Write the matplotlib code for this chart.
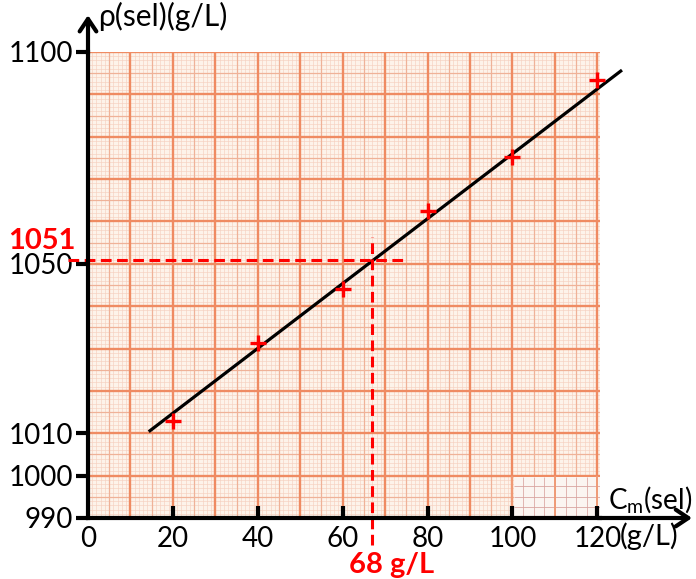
import matplotlib
matplotlib.use("Agg")
import matplotlib.pyplot as plt
import numpy as np
from matplotlib.patches import Rectangle

plt.rcParams['font.family'] = ['Lato', 'DejaVu Sans']
plt.rcParams['mathtext.fontset'] = 'custom'
plt.rcParams['mathtext.rm'] = 'Lato'
plt.rcParams['mathtext.it'] = 'Lato:italic'
plt.rcParams['mathtext.bf'] = 'Lato:bold'

# ---- data ----
conc = [20, 40, 60, 80, 100, 120]              # C_m(sel) g/L
density = [1013, 1031.4, 1044, 1062.5, 1075.3, 1093.3]  # rho g/L
fit_x = [14.6, 125.5]
fit_y = [1010.6, 1095.5]
read_x = 67
read_y = 1051
xticks = [0, 20, 40, 60, 80, 100, 120]
yticks = [990, 1000, 1010, 1050, 1100]

W, H = 696, 579
fig = plt.figure(figsize=(W / 100, H / 100), dpi=100)
ax = fig.add_axes([88 / W, (579 - 518) / H, 511.5 / W, 466 / H])
ax.set_xlim(0, 120.5)
ax.set_ylim(990, 1100)

# graph paper
ax.add_patch(Rectangle((0, 990), 120.5, 110, facecolor='#fdf3ea', edgecolor='none', zorder=0))
ax.vlines(np.arange(0, 121, 1), 990, 1100, color='#f6d0c0', lw=0.45, zorder=0.2)
ax.hlines(np.arange(990, 1101, 1), 0, 120.5, color='#f6d0c0', lw=0.45, zorder=0.2)
ax.vlines(np.arange(5, 121, 10), 990, 1100, color='#efb298', lw=0.9, zorder=0.3)
ax.hlines(np.arange(995, 1101, 10), 0, 120.5, color='#efb298', lw=0.9, zorder=0.3)
ax.vlines(np.arange(0, 121, 10), 990, 1100, color='#ef8b62', lw=1.7, zorder=0.4)
ax.hlines(np.arange(990, 1101, 10), 0, 120.5, color='#ef8b62', lw=1.7, zorder=0.4)
# lighter pasted patch at bottom right
ax.add_patch(Rectangle((100.3, 990), 20.2, 9.7, facecolor='#fbf5f1', edgecolor='none', zorder=0.5))
ax.vlines(np.arange(102.5, 120, 2.5), 990, 999.7, color='#dcaaa6', lw=0.6, zorder=0.6)
ax.hlines(np.arange(992.5, 999.7, 2.5), 100.3, 120.5, color='#d9a4a0', lw=0.6, zorder=0.6)
ax.vlines([100, 110, 120], 990, 1000, color='#ef9a75', lw=1.4, zorder=0.7)

# spines / ticks
for s in ['top', 'right']:
    ax.spines[s].set_visible(False)
for s in ['left', 'bottom']:
    ax.spines[s].set_linewidth(3)
    ax.spines[s].set_color('black')
    ax.spines[s].set_zorder(5)

ax.set_xticks(xticks)
ax.set_xticklabels([str(v) for v in xticks])
ax.set_yticks(yticks)
ax.set_yticklabels([str(v) for v in yticks])
ax.tick_params(axis='x', direction='in', length=9, width=3, pad=6, labelsize=20)
ax.tick_params(axis='y', direction='out', length=9, width=3, pad=2, labelsize=20)
ax.xaxis.get_major_ticks()[0].tick1line.set_visible(False)

# axis arrows
ax.annotate('', xy=(0, 1108.7), xytext=(0, 1099.5),
            arrowprops=dict(arrowstyle='->,head_length=0.45,head_width=0.3', lw=3, color='black',
                            mutation_scale=20, shrinkA=0, shrinkB=0),
            annotation_clip=False, zorder=6)
ax.annotate('', xy=(142.3, 990), xytext=(120, 990),
            arrowprops=dict(arrowstyle='->,head_length=0.45,head_width=0.3', lw=3, color='black',
                            mutation_scale=20, shrinkA=0, shrinkB=0),
            annotation_clip=False, zorder=6)

# fit line and points
ax.plot(fit_x, fit_y, color='black', lw=2.3, clip_on=False, zorder=3)
ax.plot(conc, density, linestyle='none', marker='+', color='#ff0000', markersize=12,
        mew=2.4, clip_on=False, zorder=4)

# reading lines
ax.plot([-4.7, 74.3], [read_y, read_y], color='#ff0000', lw=2.2, dashes=(3.5, 1.8),
        clip_on=False, zorder=3.5)
ax.plot([read_x, read_x], [983.6, 1056.4], color='#ff0000', lw=2.2, dashes=(3.5, 1.8),
        clip_on=False, zorder=3.5)

# labels
ax.text(2.4, 1108.3, 'ρ(sel)(g/L)', fontsize=21.5, ha='left', va='center', clip_on=False)
ax.text(122.6, 994.3, r'$\mathrm{C_m}$(sel)', fontsize=20, ha='left', va='center', clip_on=False)
ax.text(125.2, 985.6, '(g/L)', fontsize=21, ha='left', va='center', clip_on=False)
ax.text(-2.8, 1055.3, '1051', fontsize=21, fontweight='bold', color='#ff0000', ha='right',
        va='center', clip_on=False)
ax.text(71.5, 979.0, '68 g/L', fontsize=21, fontweight='bold', color='#ff0000', ha='center',
        va='center', clip_on=False)

fig.savefig('out.png', dpi=100)
